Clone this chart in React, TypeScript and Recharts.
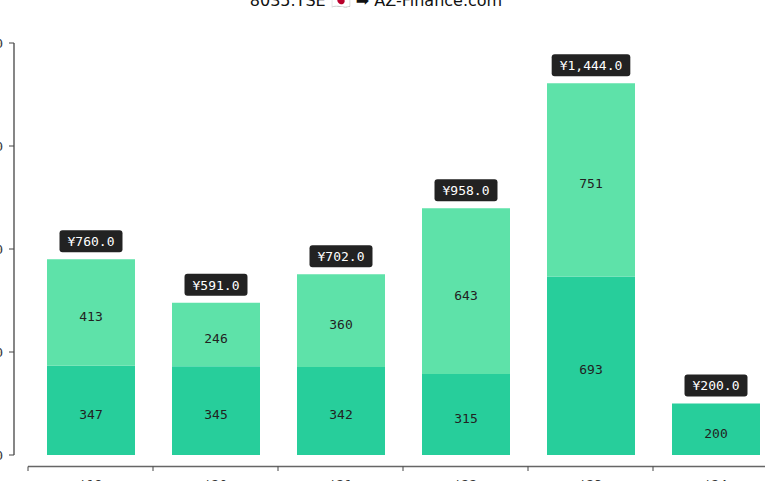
import { Bar, BarChart, LabelList, XAxis, YAxis } from 'recharts';

const years = ["'19", "'20", "'21", "'22", "'23", "'24"];
const firstHalf = [347, 345, 342, 315, 693, 200];
const secondHalf = [413, 246, 360, 643, 751, 0];
const yTicks = [0, 400, 800, 1200, 1600];

const rows = years.map((year, i) => ({
    year,
    first: firstHalf[i],
    second: secondHalf[i],
    total: firstHalf[i] + secondHalf[i],
}));

const MONO = '"DejaVu Sans Mono", monospace';
const BAND = 125;

const fmtYen = (v: number) =>
    '¥' + v.toLocaleString('en-US', { minimumFractionDigits: 1, maximumFractionDigits: 1 });

const SegmentLabel = ({ x, y, width, height, value }: any) => {
    if (!value) return null;
    return (
        <text
            x={x + width / 2}
            y={y + height / 2 + 8.5}
            textAnchor="middle"
            fill="#222"
            fontFamily={MONO}
            fontSize={13}
        >
            {value}
        </text>
    );
};

const TotalLabel = ({ x, y, width, value }: any) => {
    const text = fmtYen(value);
    const w = text.length * 7.83 + 16;
    const cx = x + width / 2;
    const bottom = y - 7;
    return (
        <g>
            <rect x={cx - w / 2} y={bottom - 22} width={w} height={22} rx={3} fill="#222" />
            <text x={cx} y={bottom - 6.3} textAnchor="middle" fill="#fff" fontFamily={MONO} fontSize={13}>
                {text}
            </text>
        </g>
    );
};

// axis line sits 12px below the zero line, ticks at the band edges
const XTick = ({ x, y, payload }: any) => {
    const ay = y + 11.5;
    return (
        <g>
            <line x1={x - BAND / 2} x2={x + BAND / 2} y1={ay} y2={ay} stroke="#666" strokeWidth={1.5} />
            <line x1={x - BAND / 2} x2={x - BAND / 2} y1={ay} y2={ay + 4.5} stroke="#444" strokeWidth={1} />
            <text x={x} y={ay + 22} textAnchor="middle" fill="#333" fontFamily={MONO} fontSize={13}>
                {payload.value}
            </text>
        </g>
    );
};

export default function App() {
    return (
        <div
            style={{
                position: 'fixed',
                left: 0,
                top: 0,
                width: 765,
                height: 481,
                overflow: 'hidden',
                background: '#fff',
            }}
        >
            <div
                style={{
                    position: 'absolute',
                    left: 0,
                    top: -7,
                    width: 752,
                    textAlign: 'center',
                    fontFamily: '"DejaVu Sans", sans-serif',
                    fontSize: 16,
                    lineHeight: '16px',
                    color: '#111',
                    whiteSpace: 'nowrap',
                }}
            >
                8035.TSE 🇯🇵 ➡ AZ-Finance.com
            </div>
            <div style={{ position: 'absolute', left: -70, top: -29 }}>
                <BarChart
                    width={860}
                    height={524}
                    data={rows}
                    margin={{ top: 72, right: 12, left: 0, bottom: 0 }}
                    barSize={88}
                >
                    <XAxis
                        dataKey="year"
                        height={40}
                        axisLine={false}
                        tickLine={false}
                        tickSize={0}
                        tickMargin={0}
                        padding={{ left: 14, right: 0 }}
                        interval={0}
                        tick={<XTick />}
                    />
                    <XAxis xAxisId="total" dataKey="year" hide padding={{ left: 14, right: 0 }} />
                    <YAxis
                        width={84}
                        domain={[0, 1600]}
                        ticks={yTicks}
                        interval={0}
                        axisLine={{ stroke: '#444', strokeWidth: 1.3 }}
                        tickLine={{ stroke: '#444' }}
                        tickSize={5}
                        tickMargin={6}
                        tick={{ fill: '#333', fontFamily: MONO, fontSize: 13 }}
                        tickFormatter={(v: number) => v.toLocaleString('en-US')}
                    />
                    <Bar dataKey="first" stackId="a" fill="#27CE9B" isAnimationActive={false}>
                        <LabelList dataKey="first" content={<SegmentLabel />} />
                    </Bar>
                    <Bar dataKey="second" stackId="a" fill="#5EE2A9" isAnimationActive={false}>
                        <LabelList dataKey="second" content={<SegmentLabel />} />
                    </Bar>
                    <Bar
                        xAxisId="total"
                        dataKey="total"
                        fill="none"
                        isAnimationActive={false}
                    >
                        <LabelList dataKey="total" content={<TotalLabel />} />
                    </Bar>
                </BarChart>
            </div>
        </div>
    );
}
